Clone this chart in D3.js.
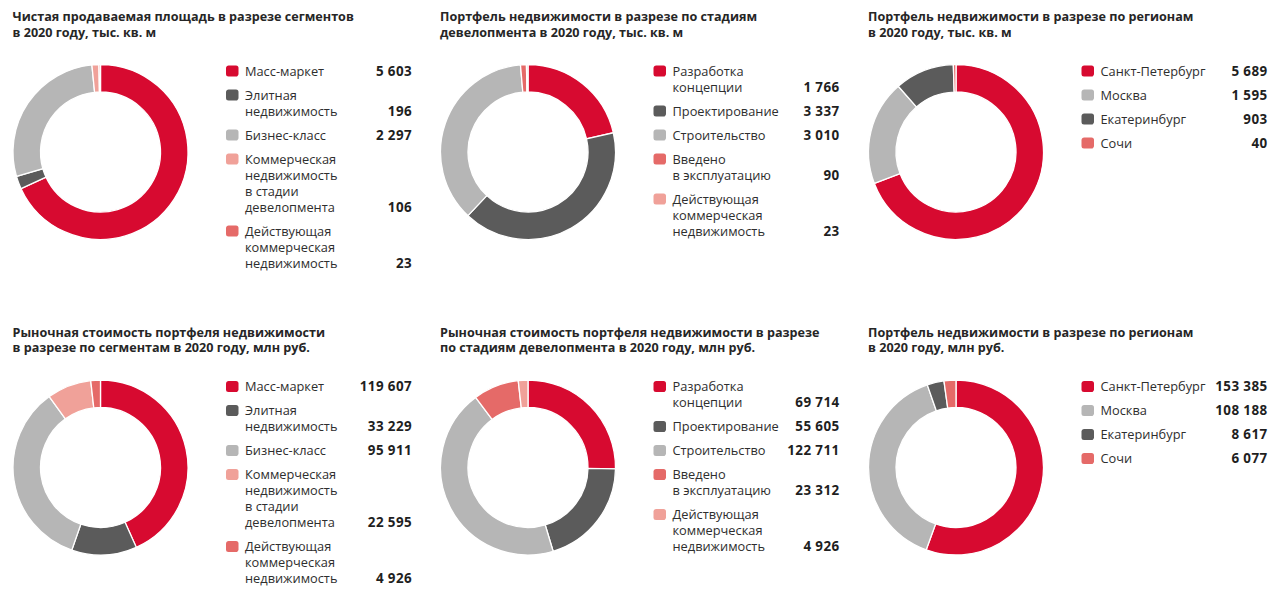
<!DOCTYPE html>
<html>
<head>
<meta charset="utf-8">
<script src="https://cdn.jsdelivr.net/npm/d3@7"></script>
<style>
  html, body { margin: 0; padding: 0; background: #fff; }
  svg { display: block; }
  text { font-family: "Open Sans", "Noto Sans", sans-serif; }
</style>
</head>
<body>
<svg id="chart" width="1280" height="596"></svg>
<script>
// ---------- DATA ----------
const segCategories = ["Масс-маркет", "Элитная\nнедвижимость", "Бизнес-класс",
  "Коммерческая\nнедвижимость\nв стадии\nдевелопмента", "Действующая\nкоммерческая\nнедвижимость"];
const segAreaValues = [5603, 196, 2297, 106, 23];
const segCostValues = [119607, 33229, 95911, 22595, 4926];

const stageCategories = ["Разработка\nконцепции", "Проектирование", "Строительство",
  "Введено\nв эксплуатацию", "Действующая\nкоммерческая\nнедвижимость"];
const stageAreaValues = [1766, 3337, 3010, 90, 23];
const stageCostValues = [69714, 55605, 122711, 23312, 4926];

const regionCategories = ["Санкт-Петербург", "Москва", "Екатеринбург", "Сочи"];
const regionAreaValues = [5689, 1595, 903, 40];
const regionCostValues = [153385, 108188, 8617, 6077];

const titles = [
  ["Чистая продаваемая площадь в разрезе сегментов", "в 2020 году, тыс. кв. м"],
  ["Портфель недвижимости в разрезе по стадиям", "девелопмента в 2020 году, тыс. кв. м"],
  ["Портфель недвижимости в разрезе по регионам", "в 2020 году, тыс. кв. м"],
  ["Рыночная стоимость портфеля недвижимости", "в разрезе по сегментам в 2020 году, млн руб."],
  ["Рыночная стоимость портфеля недвижимости в разрезе", "по стадиям девелопмента в 2020 году, млн руб."],
  ["Портфель недвижимости в разрезе по регионам", "в 2020 году, млн руб."]
];

// ---------- STYLE ----------
const RED = "#d70a30", DARK = "#5b5b5b", LIGHT = "#b6b6b6", SALMON = "#e56a68", PINK = "#f0a199";
const segColors = [RED, DARK, LIGHT, PINK, SALMON];
const stageColors = [RED, DARK, LIGHT, SALMON, PINK];
const regionColors = [RED, LIGHT, DARK, SALMON];

const panels = [
  {cats: segCategories, vals: segAreaValues, colors: segColors, title: titles[0], cx: 100.5, cy: 152},
  {cats: stageCategories, vals: stageAreaValues, colors: stageColors, title: titles[1], cx: 528, cy: 152},
  {cats: regionCategories, vals: regionAreaValues, colors: regionColors, title: titles[2], cx: 956, cy: 152},
  {cats: segCategories, vals: segCostValues, colors: segColors, title: titles[3], cx: 100.5, cy: 467.5},
  {cats: stageCategories, vals: stageCostValues, colors: stageColors, title: titles[4], cx: 528, cy: 467.5},
  {cats: regionCategories, vals: regionCostValues, colors: regionColors, title: titles[5], cx: 956, cy: 467.5}
];

const locale = d3.formatLocale({decimal: ",", thousands: "\u00a0", grouping: [3], currency: ["", ""]});
const fmt = locale.format(",d");

const svg = d3.select("#chart");
const R = 87.5, r = 60;
const arc = d3.arc().innerRadius(r).outerRadius(R);
const pie = d3.pie().sort(null).value(d => d);

const LINE = 16, GAP = 8;

panels.forEach(p => {
  const g = svg.append("g");
  const titleTop = p.cy - 131;
  // title
  const t = g.append("text")
    .attr("x", p.cx - 88)
    .attr("y", titleTop)
    .attr("fill", "#262626")
    .style("font-size", "12.6px")
    .style("font-weight", 700);
  p.title.forEach((line, i) => {
    t.append("tspan").attr("x", p.cx - 88).attr("y", titleTop + i * 15.5).text(line);
  });

  // donut
  const color = d3.scaleOrdinal().domain(d3.range(p.vals.length)).range(p.colors);
  g.append("g")
    .attr("transform", `translate(${p.cx},${p.cy})`)
    .selectAll("path")
    .data(pie(p.vals))
    .join("path")
    .attr("d", arc)
    .attr("fill", (d, i) => color(i))
    .attr("stroke", "#fff")
    .attr("stroke-width", 1.3);

  // legend
  let y = p.cy - 81;
  const lg = g.append("g");
  p.cats.forEach((cat, i) => {
    const lines = cat.split("\n");
    const sx = p.cx + 125.5;
    lg.append("path")
      .attr("d", `M${sx + 2.5},${y - 5.5} L${sx + 10},${y - 5.5} Q${sx + 12.5},${y - 5.5} ${sx + 12.5},${y - 3} L${sx + 12.5},${y + 3} Q${sx + 12.5},${y + 4} ${sx + 11.5},${y + 5} L${sx + 11},${y + 5.5} L${sx + 2.5},${y + 5.5} Q${sx},${y + 5.5} ${sx},${y + 3} L${sx},${y - 3} Q${sx},${y - 4} ${sx + 1},${y - 5} Z`)
      .attr("fill", color(i));
    lines.forEach((ln, j) => {
      lg.append("text")
        .attr("x", p.cx + 144.5)
        .attr("y", y + j * LINE + 4.5)
        .attr("fill", "#2e2e2e")
        .style("font-size", "12.8px")
        .text(ln);
    });
    lg.append("text")
      .attr("x", p.cx + 311.5)
      .attr("y", y + (lines.length - 1) * LINE + 4.5)
      .attr("text-anchor", "end")
      .attr("fill", "#1f1f1f")
      .style("font-size", "13.4px")
      .style("letter-spacing", "0.4px")
      .style("font-weight", 700)
      .text(fmt(p.vals[i]));
    y += lines.length * LINE + GAP;
  });
});
</script>
</body>
</html>
